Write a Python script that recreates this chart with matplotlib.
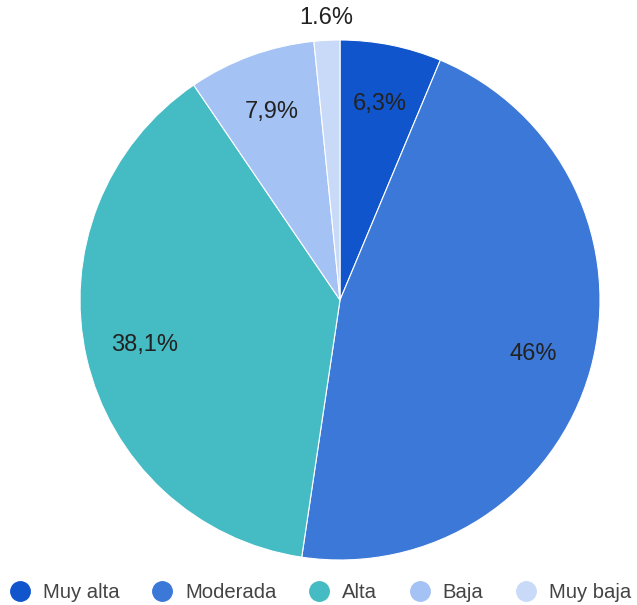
import numpy as np
import matplotlib
matplotlib.use("Agg")
import matplotlib.pyplot as plt
from matplotlib.lines import Line2D

plt.rcParams["font.family"] = ["Liberation Sans", "DejaVu Sans"]

categories = ["Muy alta", "Moderada", "Alta", "Baja", "Muy baja"]
values = [6.3, 46.0, 38.1, 7.9, 1.6]
pct_labels = ["6,3%", "46%", "38,1%", "7,9%", "1.6%"]
colors = ["#1155cc", "#3c78d8", "#45bbc3", "#a4c2f4", "#c9daf8"]

fig = plt.figure(figsize=(6.37, 6.05), dpi=100)
ax = fig.add_axes([80 / 637, 45 / 605, 520 / 637, 520 / 605])

wedges, _ = ax.pie(values, colors=colors, startangle=90, counterclock=False,
                   wedgeprops=dict(edgecolor="white", linewidth=0.8))
ax.set_xlim(-1, 1)
ax.set_ylim(-1, 1)
ax.set_aspect("equal")

total = sum(values)
for w, lab, v in zip(wedges, pct_labels, values):
    ang = np.deg2rad((w.theta1 + w.theta2) / 2)
    r = 1.085 if v / total < 0.03 else 0.77
    ax.text(r * np.cos(ang), r * np.sin(ang), lab, ha="center", va="center",
            fontsize=17, color="#222222", clip_on=False)

handles = [Line2D([], [], marker="o", linestyle="", markersize=14,
                  markerfacecolor=c, markeredgecolor=c) for c in colors]
fig.legend(handles, categories, loc="center", bbox_to_anchor=(0.503, 12 / 605),
           ncol=5, frameon=False, fontsize=14.6, labelcolor="#444444",
           handletextpad=0.64, columnspacing=1.6, handlelength=1.0,
           borderpad=0, borderaxespad=0)

fig.savefig("out.png", dpi=100, facecolor="white")
